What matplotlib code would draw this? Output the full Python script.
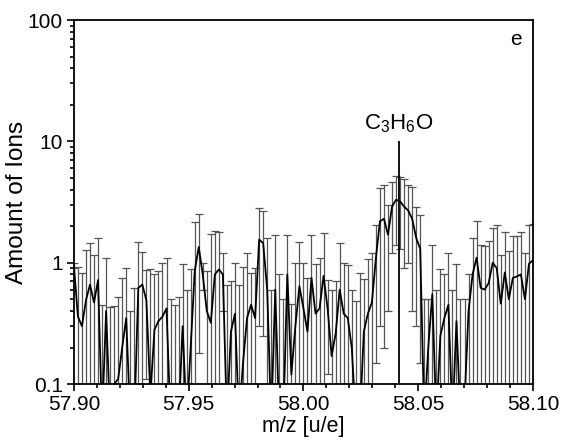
import numpy as np
import matplotlib
matplotlib.use("Agg")
import matplotlib.pyplot as plt
from matplotlib.ticker import FixedLocator, NullFormatter, LogLocator

plt.rcParams['font.family'] = ['Liberation Sans', 'DejaVu Sans']
plt.rcParams['mathtext.fontset'] = 'custom'
plt.rcParams['mathtext.rm'] = 'Liberation Sans'
plt.rcParams['mathtext.it'] = 'Liberation Sans'

# m/z grid of the spectrum (115 bins between 57.90 and 58.10)
mz_start, mz_stop, n_bins = 57.90, 58.10, 115
mz = np.linspace(mz_start, mz_stop, n_bins)

# Amount of ions per bin (values below 0.1 are off-scale)
counts = [
    0.95, 0.36, 0.30, 0.49, 0.66, 0.47, 0.72, 0.05, 0.40, 0.05,
    0.10, 0.11, 0.20, 0.35, 0.05, 0.05, 0.62, 0.66, 0.49, 0.08,
    0.28, 0.33, 0.36, 0.42, 0.05, 0.05, 0.05, 0.30, 0.05, 0.20,
    0.85, 1.35, 0.80, 0.40, 0.32, 0.80, 0.88, 0.80, 0.05, 0.27,
    0.38, 0.05, 0.15, 0.35, 0.45, 0.35, 1.55, 1.45, 0.60, 0.05,
    0.60, 0.05, 0.05, 0.80, 0.12, 0.30, 0.64, 0.42, 0.27, 0.75,
    0.38, 0.42, 0.78, 0.42, 0.17, 0.26, 0.60, 0.38, 0.35, 0.20,
    0.05, 0.05, 0.27, 0.38, 0.47, 1.10, 2.20, 2.30, 1.70, 2.90,
    3.30, 3.20, 2.90, 2.70, 2.30, 1.60, 1.30, 0.05, 0.20, 0.55,
    0.05, 0.25, 0.35, 0.45, 0.05, 0.33, 0.05, 0.07, 0.40, 0.80,
    1.10, 0.62, 0.60, 0.68, 1.00, 0.90, 0.46, 0.83, 0.50, 0.75,
    0.77, 0.80, 0.50, 0.98, 1.05,
]

# Upper end of each error bar
upper = [
    1.00, 0.93, 0.83, 1.28, 1.45, 1.15, 1.60, 0.45, 1.10, 0.43,
    0.44, 0.52, 0.75, 0.90, 0.40, 0.62, 1.47, 1.22, 0.87, 0.88,
    0.80, 0.85, 1.00, 1.10, 0.50, 0.45, 0.52, 0.97, 0.60, 0.88,
    2.15, 2.52, 1.00, 0.85, 1.72, 1.82, 1.80, 1.20, 0.66, 0.70,
    1.00, 0.66, 0.92, 1.20, 0.83, 0.90, 2.80, 2.65, 1.60, 0.60,
    1.68, 0.80, 0.50, 1.70, 0.46, 1.00, 1.48, 1.00, 0.75, 1.70,
    0.98, 1.10, 1.75, 0.72, 0.60, 0.70, 1.45, 0.99, 0.96, 0.60,
    0.48, 0.82, 0.73, 1.07, 1.20, 2.05, 4.10, 4.40, 3.00, 4.60,
    5.20, 5.10, 4.90, 4.40, 4.20, 2.90, 2.45, 0.50, 0.50, 1.40,
    0.60, 0.88, 0.80, 1.20, 0.60, 0.97, 0.50, 0.50, 0.80, 1.60,
    2.20, 1.40, 1.38, 1.50, 1.95, 2.05, 1.15, 1.80, 1.25, 1.65,
    1.65, 1.80, 1.20, 2.05, 2.10,
]

peak_mz = 58.0415
peak_height = 10
peak_label = r'C$_3$H$_6$O'
panel_label = 'e'
x_ticks = [57.90, 57.95, 58.00, 58.05, 58.10]
x_ticklabels = ['57.90', '57.95', '58.00', '58.05', '58.10']
y_ticks = [0.1, 1, 10, 100]
y_ticklabels = ['0.1', '1', '10', '100']

counts_a = np.array(counts)
err = np.array(upper) - counts_a

fig = plt.figure(figsize=(5.64, 4.45), dpi=100)
ax = fig.add_axes([0.131, 0.137, 0.814, 0.818])
ax.set_yscale('log')

ax.errorbar(mz, counts_a, yerr=[err, err], fmt='none', ecolor='#555555',
            elinewidth=0.9, capsize=2.6, capthick=0.9, zorder=2)
ax.plot(mz, counts_a, color='black', lw=1.3, zorder=3)
ax.vlines(peak_mz, 0.1, peak_height, color='black', lw=1.3, zorder=4)
ax.text(peak_mz, peak_height * 1.12, peak_label, ha='center', va='bottom', fontsize=16)
ax.text(0.975, 0.972, panel_label, transform=ax.transAxes, ha='right', va='top', fontsize=15)

ax.set_xlim(57.90, 58.10)
ax.set_ylim(0.1, 100)
ax.set_xticks(x_ticks)
ax.set_xticklabels(x_ticklabels)
ax.xaxis.set_minor_locator(FixedLocator(np.arange(57.90, 58.1001, 0.01)))
ax.set_yticks(y_ticks)
ax.set_yticklabels(y_ticklabels)
ax.yaxis.set_minor_locator(LogLocator(base=10, subs=np.arange(2, 10)))
ax.yaxis.set_minor_formatter(NullFormatter())

ax.tick_params(which='both', direction='out', top=False, right=False, labelsize=15, width=1.2, pad=3)
ax.tick_params(which='major', length=5)
ax.tick_params(which='minor', length=3)
for s in ax.spines.values():
    s.set_linewidth(1.3)

ax.set_xlabel('m/z [u/e]', fontsize=15.5, labelpad=1)
ax.set_ylabel('Amount of Ions', fontsize=17.5, labelpad=0)

fig.savefig('out.png', dpi=100)
